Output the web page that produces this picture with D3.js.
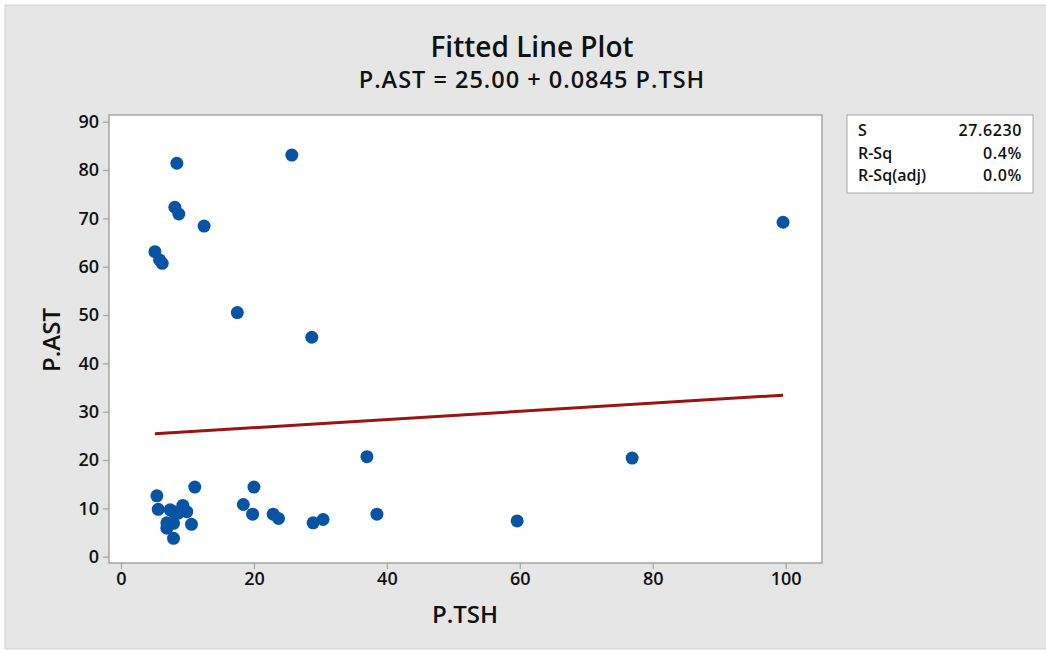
<!DOCTYPE html>
<html lang="en">
<head>
    <meta charset="UTF-8">
    <title>Fitted Line Plot</title>
    <script src="https://cdn.jsdelivr.net/npm/d3@7"></script>
    <style>
        body { margin: 0; background: #fff; }
        text { font-family: "Open Sans", "Noto Sans", sans-serif; fill: #111; }
    </style>
</head>
<body>
    <svg width="1046" height="652"></svg>
<script>
    // P.TSH (x) and P.AST (y)
    var tsh = [8.4, 25.7, 8.1, 8.7, 12.5, 5.1, 5.8, 6.2, 17.5, 28.7, 99.6,
               37.0, 76.9, 59.6, 5.4, 11.1, 5.6, 7.4, 7.9, 9.3, 9.9, 8.6,
               6.9, 7.9, 6.9, 7.9, 10.6, 20.0, 18.4, 19.8, 22.9, 23.7, 28.9, 30.4, 38.5];
    var ast = [81.4, 83.1, 72.3, 70.9, 68.4, 63.1, 61.4, 60.7, 50.5, 45.4, 69.2,
               20.7, 20.4, 7.4, 12.6, 14.4, 9.8, 9.7, 9.3, 10.6, 9.3, 9.0,
               7.0, 6.9, 5.9, 3.8, 6.7, 14.4, 10.8, 8.8, 8.8, 7.9, 7.0, 7.7, 8.8];
    var xTicks = [0, 20, 40, 60, 80, 100];
    var yTicks = [0, 10, 20, 30, 40, 50, 60, 70, 80, 90];
    var intercept = 25.00, slope = 0.0845;
    var statLabels = ["S", "R-Sq", "R-Sq(adj)"];
    var statValues = ["27.6230", "0.4%", "0.0%"];

    var svg = d3.select("svg");

    // grey panel
    svg.append("rect")
        .attr("x", 5).attr("y", 5)
        .attr("width", 1046).attr("height", 644)
        .attr("fill", "#e6e6e6")
        .attr("stroke", "#d2d2d2");

    var frame = {left: 109, right: 822, top: 115, bottom: 563};

    var x = d3.scaleLinear().domain([0, 100]).range([121, 785.7]);
    var y = d3.scaleLinear().domain([0, 90]).range([556.7, 121.7]);

    svg.append("rect")
        .attr("x", frame.left).attr("y", frame.top)
        .attr("width", frame.right - frame.left)
        .attr("height", frame.bottom - frame.top)
        .attr("fill", "#fff")
        .attr("stroke", "#a6a6a6")
        .attr("stroke-width", 1.5);

    // axes
    var xAxis = svg.append("g")
        .attr("transform", "translate(0," + frame.bottom + ")")
        .call(d3.axisBottom(x).tickValues(xTicks).tickSize(6).tickPadding(3));
    var yAxis = svg.append("g")
        .attr("transform", "translate(" + frame.left + ",0)")
        .call(d3.axisLeft(y).tickValues(yTicks).tickSize(6).tickPadding(4));
    [xAxis, yAxis].forEach(function(a) {
        a.select(".domain").remove();
        a.selectAll("line").attr("stroke", "#a6a6a6").attr("stroke-width", 1.3);
        a.selectAll("text")
            .style("font-family", "'Open Sans', sans-serif")
            .style("font-size", "18px")
            .style("font-weight", 600)
            .attr("fill", "#111");
    });

    // points
    var pts = tsh.map(function(d, i) { return [d, ast[i]]; });
    svg.append("g")
        .selectAll("circle")
        .data(pts)
        .join("circle")
        .attr("cx", function(d) { return x(d[0]); })
        .attr("cy", function(d) { return y(d[1]); })
        .attr("r", 6.5)
        .attr("fill", "#0854a4");

    // fitted line
    var x0 = d3.min(tsh), x1 = d3.max(tsh);
    svg.append("line")
        .attr("x1", x(x0)).attr("y1", y(intercept + slope * x0))
        .attr("x2", x(x1)).attr("y2", y(intercept + slope * x1))
        .attr("stroke", "#9b1414")
        .attr("stroke-width", 3);

    // titles
    svg.append("text")
        .attr("x", 532).attr("y", 57)
        .attr("text-anchor", "middle")
        .style("font-size", "28px").style("font-weight", 600)
        .text("Fitted Line Plot");
    svg.append("text")
        .attr("x", 532).attr("y", 88)
        .attr("text-anchor", "middle")
        .style("font-size", "23.5px").style("font-weight", 600)
        .style("letter-spacing", "1px")
        .text("P.AST = 25.00 + 0.0845 P.TSH");
    svg.append("text")
        .attr("x", 465).attr("y", 623)
        .attr("text-anchor", "middle")
        .style("font-size", "24px").style("font-weight", 600)
        .text("P.TSH");
    svg.append("text")
        .attr("transform", "translate(60,340) rotate(-90)")
        .attr("text-anchor", "middle")
        .style("font-size", "24px").style("font-weight", 600)
        .text("P.AST");

    // stats box
    var box = svg.append("g").attr("transform", "translate(847,115)");
    box.append("rect")
        .attr("width", 186).attr("height", 78)
        .attr("fill", "#fff")
        .attr("stroke", "#a6a6a6");
    box.selectAll("text.lab")
        .data(statLabels)
        .join("text")
        .attr("class", "lab")
        .attr("x", 11)
        .attr("y", function(d, i) { return 21 + i * 22.5; })
        .style("font-size", "16px").style("font-weight", 600)
        .text(function(d) { return d; });
    box.selectAll("text.val")
        .data(statValues)
        .join("text")
        .attr("class", "val")
        .attr("x", 175)
        .attr("y", function(d, i) { return 21 + i * 22.5; })
        .attr("text-anchor", "end")
        .style("font-size", "16px").style("font-weight", 600)
        .style("letter-spacing", "0.6px")
        .text(function(d) { return d; });
</script>
</body>
</html>
